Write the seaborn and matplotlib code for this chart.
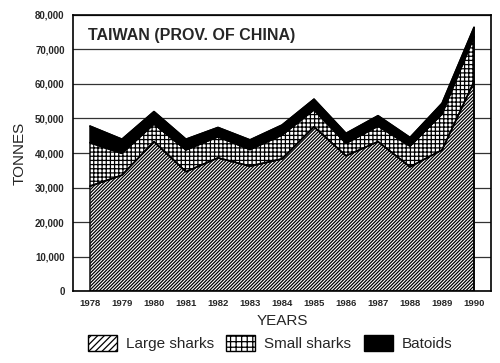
import seaborn as sns
import matplotlib.pyplot as plt
import pandas as pd
from matplotlib.patches import Patch

# catches in tonnes (stacked areas)
years = list(range(1978, 1991))
large_sharks = [30400, 33600, 43300, 34600, 38600, 36200, 38300, 47600, 39200, 43300, 36000, 40900, 60700]
small_sharks = [12600, 6300, 5100, 6300, 6100, 4800, 6900, 4900, 3600, 4500, 6000, 10400, 13000]
batoids = [4800, 4100, 3600, 3100, 2700, 2800, 2900, 3100, 2900, 3000, 2500, 3100, 2700]
yticks = list(range(0, 80001, 10000))

df = pd.DataFrame({"year": years, "Large sharks": large_sharks,
                   "Small sharks": small_sharks, "Batoids": batoids})

sns.set_style("white")
plt.rcParams["font.family"] = ["Liberation Sans", "DejaVu Sans"]
plt.rcParams["hatch.linewidth"] = 0.9

fig = plt.figure(figsize=(5.0, 3.63), dpi=100)
ax = fig.add_axes([0.146, 0.198, 0.836, 0.761])

ax.stackplot(df["year"], df["Large sharks"], df["Small sharks"], df["Batoids"],
             colors=["white", "white", "black"], hatch=["//////////", "++++", ""],
             edgecolor="black", linewidth=1.0, zorder=2)

# boundary lines between layers
cum1 = df["Large sharks"]
cum2 = cum1 + df["Small sharks"]
cum3 = cum2 + df["Batoids"]
for c in (cum1, cum2, cum3):
    sns.lineplot(x=df["year"], y=c, color="black", lw=1.2, ax=ax, zorder=3)
ax.vlines(years[-1], 0, cum3.iloc[-1], color="black", lw=1.2, zorder=3)

ax.set_xlim(1977.47, 1990.53)
ax.set_ylim(0, 80000)
ax.set_xticks(years)
ax.set_yticks(yticks)
ax.set_yticklabels([f"{v:,}" for v in yticks], fontsize=7, fontweight="bold")
ax.set_xticklabels([str(y) for y in years], fontsize=6.8, fontweight="bold")
ax.grid(axis="y", color="#333333", lw=0.9, zorder=0)
ax.set_axisbelow(True)
for s in ax.spines.values():
    s.set_color("black")
    s.set_linewidth(1.2)
ax.tick_params(axis="y", direction="out", length=5, width=1, color="black", pad=1)
ax.tick_params(axis="x", direction="out", length=3, width=1, color="black", pad=3)

ax.set_xlabel("YEARS", fontsize=11, labelpad=4)
ax.set_ylabel("TONNES", fontsize=11, labelpad=6)
ax.text(0.035, 0.925, "TAIWAN (PROV. OF CHINA)", transform=ax.transAxes,
        fontsize=11.5, fontweight="bold", va="center", ha="left")

handles = [Patch(facecolor="white", edgecolor="black", hatch="/////"),
           Patch(facecolor="white", edgecolor="black", hatch="+++"),
           Patch(facecolor="black", edgecolor="black")]
fig.legend(handles, ["Large sharks", "Small sharks", "Batoids"], loc="center",
           bbox_to_anchor=(0.54, 0.055), ncol=3, frameon=False, fontsize=11,
           handlelength=1.9, handleheight=1.3, columnspacing=0.8, handletextpad=0.6)

fig.savefig("out.png", dpi=100)
